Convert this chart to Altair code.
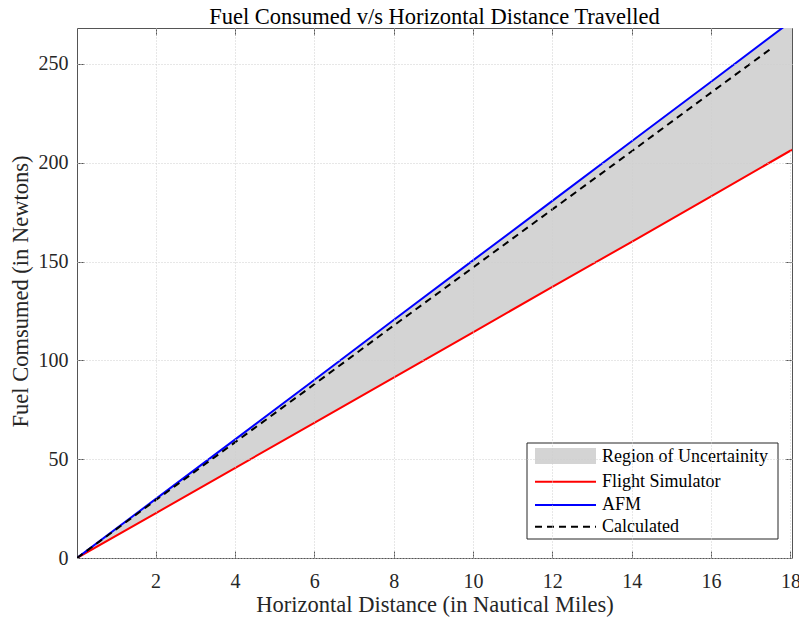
import altair as alt
import pandas as pd

# ---- data ----
dist = [0.02, 2, 4, 6, 8, 10, 12, 14, 16, 18.04]
flight_sim = [0, 22.6, 45.5, 68.4, 91.3, 114.2, 137.2, 160.0, 183.0, 206.6]
afm = [0, 29.8, 59.9, 90.1, 120.4, 150.6, 180.7, 210.9, 241.0, 271.9]
calc_dist = [0.02, 2, 4, 6, 8, 10, 12, 14, 16, 17.5]
calculated = [0, 29.2, 58.5, 87.9, 117.6, 147.0, 176.4, 205.8, 235.5, 257.6]
x_ticks = [2, 4, 6, 8, 10, 12, 14, 16, 18]
y_ticks = [0, 50, 100, 150, 200, 250]
legend_labels = ["Region of Uncertainity", "Flight Simulator", "AFM", "Calculated"]
chart_title = "Fuel Consumed v/s Horizontal Distance Travelled"

# ---- styling ----
W, H = 715, 530
FONT = "Liberation Serif"
AX = "#555555"
TXT = "#262626"

main_df = pd.DataFrame({"dist": dist, "flight": flight_sim, "afm": afm})
calc_df = pd.DataFrame({"dist": calc_dist, "calc": calculated})

xs = alt.Scale(domain=[0.02, 18.04], nice=False, zero=False)
ys = alt.Scale(domain=[0, 268.2], nice=False, zero=False)

x_main_axis = alt.Axis(
    orient="bottom", values=x_ticks, grid=True, gridColor="#cfcfcf", gridDash=[1, 2],
    gridWidth=1, domain=False, ticks=False, labelFont=FONT, labelFontSize=20,
    labelColor=TXT, labelPadding=13, title="Horizontal Distance (in Nautical Miles)",
    titleFont=FONT, titleFontSize=22.5, titleFontWeight="normal", titleColor=TXT,
    titleX=W / 2, titleY=53.7, titleBaseline="alphabetic", titleAlign="center", zindex=1,
)
y_main_axis = alt.Axis(
    orient="left", values=y_ticks, grid=True, gridColor="#cfcfcf", gridDash=[1, 2],
    gridWidth=1, domain=False, ticks=False, labelFont=FONT, labelFontSize=20,
    labelColor=TXT, labelPadding=9, title="Fuel Comsumed (in Newtons)",
    titleFont=FONT, titleFontSize=22.5, titleFontWeight="normal", titleColor=TXT,
    titleX=-50, titleY=263, titleAngle=-90, titleBaseline="alphabetic", titleAlign="center",
    zindex=1,
)


def tick_axis(orient, vals):
    return alt.Axis(orient=orient, values=vals, offset=-7, tickSize=7, tickColor=AX,
                    tickWidth=1, labels=False, domain=False, grid=False, title=None)


area = alt.Chart(main_df).mark_area(color="#d4d4d4", clip=True).encode(
    x=alt.X("dist:Q", scale=xs, axis=x_main_axis),
    y=alt.Y("afm:Q", scale=ys, axis=y_main_axis),
    y2="flight:Q",
)

red = alt.Chart(main_df).mark_line(color="#ff0000", strokeWidth=2, clip=True).encode(
    x=alt.X("dist:Q", scale=xs, axis=tick_axis("bottom", x_ticks)),
    y=alt.Y("flight:Q", scale=ys, axis=tick_axis("left", y_ticks)),
)

blue = alt.Chart(main_df).mark_line(color="#0000ff", strokeWidth=2, clip=True).encode(
    x=alt.X("dist:Q", scale=xs, axis=tick_axis("top", x_ticks)),
    y=alt.Y("afm:Q", scale=ys, axis=tick_axis("right", y_ticks)),
)

dashed = alt.Chart(calc_df).mark_line(color="black", strokeWidth=2, strokeDash=[7, 5],
                                      clip=True).encode(
    x=alt.X("dist:Q", scale=xs, axis=None),
    y=alt.Y("calc:Q", scale=ys, axis=None),
)

# ---- chart title, as a text mark just above the plot ----
title_mark = alt.Chart(pd.DataFrame({"t": [chart_title]})).mark_text(
    align="center", baseline="alphabetic", font=FONT, fontSize=22.5, color="black"
).encode(x=alt.value(W / 2), y=alt.value(-4.5), text="t:N")

# ---- legend (drawn inside plot) ----
one = pd.DataFrame({"k": [0]})
box = alt.Chart(one).mark_rect(fill="white", stroke="#262626", strokeWidth=1).encode(
    x=alt.value(450), x2=alt.value(701), y=alt.value(415), y2=alt.value(511)
)
sw_gray = alt.Chart(one).mark_rect(fill="#d4d4d4").encode(
    x=alt.value(458), x2=alt.value(519), y=alt.value(420), y2=alt.value(436)
)
row_y = [428.7, 453.7, 477, 498.7]
sw_red = alt.Chart(one).mark_rule(color="#ff0000", strokeWidth=2).encode(
    x=alt.value(458), x2=alt.value(519), y=alt.value(row_y[1])
)
sw_blue = alt.Chart(one).mark_rule(color="#0000ff", strokeWidth=2).encode(
    x=alt.value(458), x2=alt.value(519), y=alt.value(row_y[2])
)
sw_dash = alt.Chart(one).mark_rule(color="black", strokeWidth=2, strokeDash=[7, 5]).encode(
    x=alt.value(458), x2=alt.value(519), y=alt.value(row_y[3])
)
texts = []
for i, lab in enumerate(legend_labels):
    texts.append(
        alt.Chart(pd.DataFrame({"label": [lab]})).mark_text(
            align="left", baseline="middle", font=FONT, fontSize=18, color="black"
        ).encode(x=alt.value(525), y=alt.value(row_y[i]), text="label:N")
    )

chart = (
    alt.layer(area, red, blue, dashed, title_mark, box, sw_gray, sw_red, sw_blue, sw_dash,
              *texts)
    .resolve_axis(x="independent", y="independent")
    .properties(
        width=W,
        height=H,
        padding={"left": 77, "top": 28, "right": 7, "bottom": 62},
        autosize=alt.AutoSizeParams(type="none"),
        background="white",
    )
    .configure_view(stroke=AX, strokeWidth=1)
)

chart.save("out.html", embed_options={"renderer": "svg", "actions": False})
